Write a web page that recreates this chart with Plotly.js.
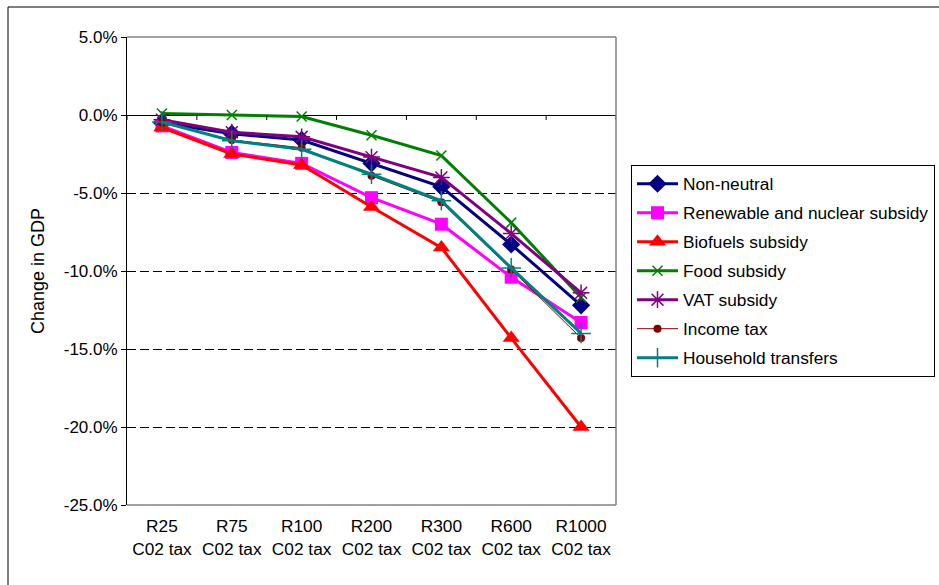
<!DOCTYPE html>
<html>
<head>
<meta charset="utf-8">
<script src="https://cdn.plot.ly/plotly-3.0.1.min.js"></script>
<style>html,body{margin:0;padding:0;background:#fff;}#chart{width:939px;height:585px;}</style>
</head>
<body>
<div id="chart"></div>
<script>
const categories = ["R25<br>C02 tax","R75<br>C02 tax","R100<br>C02 tax","R200<br>C02 tax","R300<br>C02 tax","R600<br>C02 tax","R1000<br>C02 tax"];
const nonNeutral   = [-0.5, -1.2, -1.6, -3.1, -4.6, -8.3, -12.2];
const renewable    = [-0.7, -2.4, -3.1, -5.3, -7.0, -10.4, -13.3];
const biofuels     = [-0.8, -2.5, -3.2, -5.9, -8.5, -14.3, -20.0];
const food         = [0.1, 0.0, -0.1, -1.3, -2.6, -6.9, -11.7];
const vat          = [-0.3, -1.1, -1.4, -2.7, -4.0, -7.6, -11.4];
const incomeTax    = [-0.5, -1.6, -2.1, -3.9, -5.6, -9.9, -14.3];
const household    = [-0.45, -1.65, -2.2, -3.8, -5.5, -9.8, -14.0];
const yTickVals    = [5, 0, -5, -10, -15, -20, -25];
const yTickLabels  = ["5.0%", "0.0%", "-5.0%", "-10.0%", "-15.0%", "-20.0%", "-25.0%"];

const FONT = "Arial, 'Liberation Sans', sans-serif";

function tr(name, y, color, symbol, size, lw, open) {
  return {
    type: 'scatter', mode: 'lines+markers', name: name,
    x: categories, y: y, legendgroup: name,
    line: {color: color, width: lw},
    marker: {symbol: symbol, size: size, color: color,
             line: {color: color, width: open ? 1.5 : 0}}
  };
}

const data = [
  tr('Non-neutral', nonNeutral, '#000080', 'diamond', 14, 3, false),
  tr('Renewable and nuclear subsidy', renewable, '#FF00FF', 'square', 13, 3, false),
  tr('Biofuels subsidy', biofuels, '#FF0000', 'triangle-up', 15, 3, false),
  tr('Food subsidy', food, '#008000', 'x-thin-open', 10, 3, true),
  tr('VAT subsidy', vat, '#800080', 'asterisk-open', 14, 3, true),
  tr('Income tax', incomeTax, '#800000', 'circle', 8, 1, false),
  tr('Household transfers', household, '#008080', 'cross-thin-open', 14, 3, true)
];

const shapes = [];
for (let i = 0; i <= categories.length; i++) {
  shapes.push({type:'line', xref:'x', yref:'y', x0:i-0.5, x1:i-0.5,
    ysizemode:'pixel', yanchor:0, y0:0, y1:-5, line:{color:'#000', width:1}});
}
shapes.push({type:'line', xref:'paper', yref:'paper', x0:0, x1:1, y0:1, y1:1, line:{color:'#808080', width:1.5}});
shapes.push({type:'line', xref:'paper', yref:'paper', x0:1, x1:1, y0:0, y1:1, line:{color:'#808080', width:1.5}});
shapes.push({type:'line', xref:'paper', yref:'paper', x0:0, x1:1, y0:0, y1:0, line:{color:'#808080', width:1.5}});
const PL = 127, PW = 489, PT = 37, PH = 468;
const px = v => (v - PL) / PW;
const py = v => (PT + PH - v) / PH;
shapes.push({type:'line', xref:'paper', yref:'paper', x0:px(8), x1:px(8), y0:py(7), y1:py(600), line:{color:'#000', width:1}});
shapes.push({type:'line', xref:'paper', yref:'paper', x0:px(8), x1:px(960), y0:py(7), y1:py(7), line:{color:'#000', width:1}});

const layout = {
  width: 939, height: 585,
  margin: {l: PL, r: 939 - PL - PW, t: PT, b: 585 - PT - PH, autoexpand: false},
  paper_bgcolor: '#fff', plot_bgcolor: '#fff',
  font: {family: FONT, size: 17, color: '#000'},
  showlegend: true,
  legend: {
    x: px(631), y: py(165), xanchor: 'left', yanchor: 'top',
    bordercolor: '#000', borderwidth: 1, bgcolor: '#fff',
    font: {family: FONT, size: 17.3, color: '#000'},
    traceorder: 'grouped', tracegroupgap: 3.5, itemwidth: 41
  },
  xaxis: {
    type: 'category', range: [-0.5, 6.5],
    showline: false, showgrid: false, zeroline: false,
    ticks: '', ticklabelstandoff: 9,
    tickfont: {family: FONT, size: 17.3, color: '#000'},
    fixedrange: true
  },
  yaxis: {
    range: [-25, 5], tickvals: yTickVals, ticktext: yTickLabels,
    showline: true, linecolor: '#000', linewidth: 1,
    ticks: 'outside', ticklen: 5, tickcolor: '#000', tickwidth: 1,
    showgrid: true, gridcolor: '#000', gridwidth: 1, griddash: '9px,4px',
    zeroline: true, zerolinecolor: '#000', zerolinewidth: 1,
    tickfont: {family: FONT, size: 17, color: '#000'},
    title: {text: 'Change in GDP', font: {family: FONT, size: 18, color: '#000'}, standoff: 14},
    fixedrange: true
  },
  shapes: shapes
};

Plotly.newPlot('chart', data, layout, {displayModeBar: false, staticPlot: true});
</script>
</body>
</html>
